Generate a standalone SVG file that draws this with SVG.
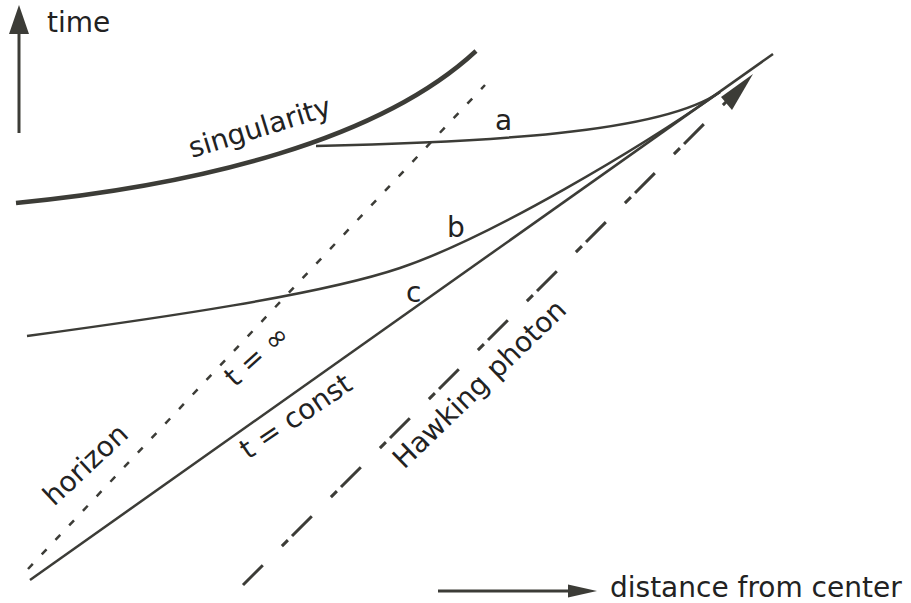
<svg xmlns="http://www.w3.org/2000/svg" width="911" height="603" viewBox="0 0 911 603">
<style>
.ln{fill:none;stroke:#3c3c37;stroke-width:2.5}
.hd{fill:#3c3c37;stroke:none}
.tx{font-family:"DejaVu Sans",sans-serif;font-size:28px;fill:#222}
</style>
<rect width="911" height="603" fill="#fff"/>
<g id="axes">
<line class="ln" x1="19" y1="133" x2="19" y2="30" style="stroke-width:3"/>
<polygon class="hd" points="19,5 9,34 29,34"/>
<line class="ln" x1="438" y1="591" x2="572" y2="591" style="stroke-width:3"/>
<polygon class="hd" points="597,591 568,584.5 568,597.5"/>
<text class="tx" x="47" y="32">time</text>
<text class="tx" x="610" y="597">distance from center</text>
</g>
<g id="connectors">
<path id="singularity" class="ln" style="stroke-width:4.5" d="M16,203 C200,185 380,140 476,51"/>
<line id="horizon" class="ln" x1="28" y1="569" x2="485" y2="85" stroke-dasharray="7 13"/>
<line id="tconst" class="ln" x1="30" y1="580" x2="773" y2="54"/>
<path id="curve-a" class="ln" d="M316,146 C480,142 660,134 720,92"/>
<path id="curve-b" class="ln" d="M27,336 C160,318 320,295 400,268 C490,237.6 640,148 720,92"/>
<line id="photon" class="ln" style="stroke-width:3" x1="243" y1="585" x2="727" y2="101" stroke-dasharray="28 27 8.5 5.8"/>
<polygon class="hd" points="753,74 721,97 732,110"/>
</g>
<g id="labels">
<text class="tx" transform="translate(192,158) rotate(-17)">singularity</text>
<text class="tx" x="495" y="130">a</text>
<text class="tx" x="447" y="237">b</text>
<text class="tx" x="406" y="302">c</text>
<text class="tx" transform="translate(235,388) rotate(-42)">t = ∞</text>
<text class="tx" transform="translate(54,507) rotate(-43)">horizon</text>
<text class="tx" transform="translate(248,460) rotate(-34)">t = const</text>
<text class="tx" transform="translate(404,470) rotate(-44)">Hawking photon</text>
</g>
</svg>
